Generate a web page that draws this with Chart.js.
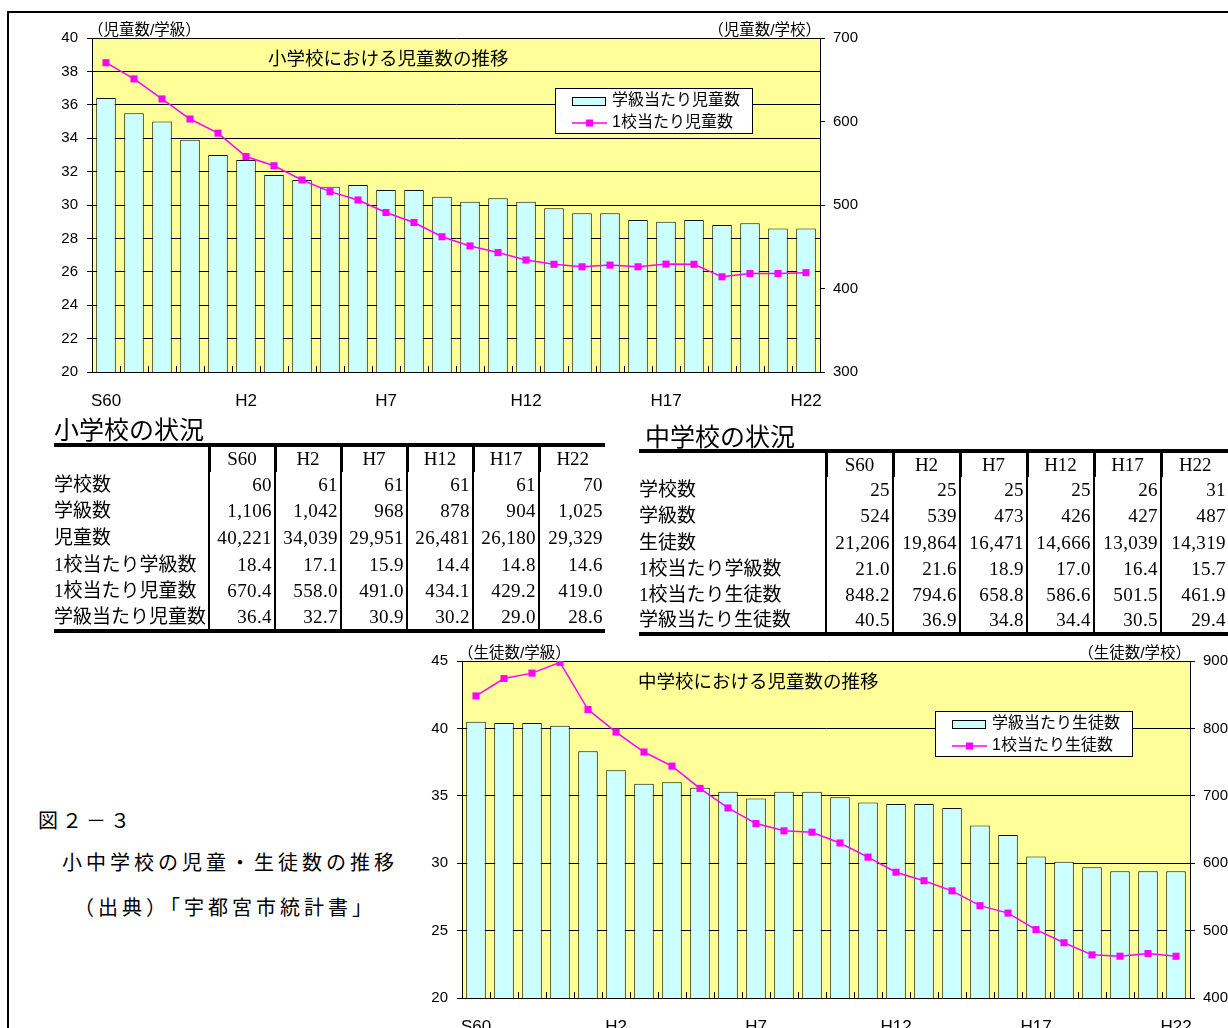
<!DOCTYPE html>
<html lang="ja">
<head>
<meta charset="utf-8">
<script src="https://cdn.jsdelivr.net/npm/chart.js@4.4.1/dist/chart.umd.min.js"></script>
<style>
  html, body { margin: 0; padding: 0; width: 1228px; height: 1028px; overflow: hidden; background: #fff; }
  body { position: relative; font-family: 'Liberation Sans', 'Noto Sans CJK JP', sans-serif; color: #000; }
  .frame { position: absolute; left: 7px; top: 11px; width: 1300px; height: 1100px; border-left: 2px solid #000; border-top: 2px solid #000; }
  canvas { position: absolute; }
  .heading { position: absolute; font-family: 'Noto Sans CJK JP', sans-serif; font-size: 25px; line-height: 29px; white-space: nowrap; }
  table.tbl { position: absolute; border-collapse: collapse; table-layout: fixed;
    font-family: 'Liberation Serif', 'Noto Sans CJK JP', serif; font-size: 19px;
    border-top: 4px solid #000; border-bottom: 4px solid #000; }
  table.tbl td { padding: 0 2px 0 0; white-space: nowrap; overflow: hidden; line-height: 20px; }
  table.tbl td.lab { text-align: left; border-right: 2px solid #000; }
  table.tbl td.num { text-align: right; border-right: 2px solid #000; letter-spacing: 0.4px; }
  table.tbl td.hd { text-align: center; border-right: 3px solid #000; padding: 0; }
  table.tbl td.last { border-right: none; }
  .note { position: absolute; font-family: 'Noto Sans CJK JP', sans-serif; font-size: 20px; letter-spacing: 4px; white-space: nowrap; line-height: 24px; }
</style>
</head>
<body>
<div class="frame"></div>
<canvas id="chartElem" width="850" height="410" style="left:30px; top:10px;"></canvas>
<canvas id="chartJunior" width="870" height="430" style="left:400px; top:630px;"></canvas>

<div class="heading" style="left:54px; top:414px;">小学校の状況</div>
<table class="tbl" id="tblElem" style="left:54px; top:443px;"></table>
<div class="heading" style="left:645px; top:421px;">中学校の状況</div>
<table class="tbl" id="tblJunior" style="left:639px; top:449px;"></table>

<div class="note" style="left:38px; top:808px;">図２－３</div>
<div class="note" style="left:62px; top:850px;">小中学校の児童・生徒数の推移</div>
<div class="note" style="left:74px; top:895px;">（出典）「宇都宮市統計書」</div>

<script>
// 年次（S60〜H22）
const categories = ['S60', 'S61', 'S62', 'S63', 'H1', 'H2', 'H3', 'H4', 'H5', 'H6', 'H7', 'H8', 'H9',
    'H10', 'H11', 'H12', 'H13', 'H14', 'H15', 'H16', 'H17', 'H18', 'H19', 'H20', 'H21', 'H22'];

// 小学校
const elemPerClass = [36.4, 35.5, 35.0, 33.9, 33.0, 32.7, 31.8, 31.5, 31.1, 31.2, 30.9, 30.9, 30.5,
    30.2, 30.4, 30.2, 29.8, 29.5, 29.5, 29.1, 29.0, 29.1, 28.8, 28.9, 28.6, 28.6];
const elemPerSchool = [670.4, 651, 627, 603, 586, 558.0, 547, 530, 516, 506, 491.0, 479, 462,
    451, 443, 434.1, 429, 426, 428, 426, 429.2, 429, 414, 418, 418, 419.0];

// 中学校
const juniorPerClass = [40.5, 40.4, 40.4, 40.2, 38.3, 36.9, 35.9, 36.0, 35.6, 35.3, 34.8, 35.3, 35.3,
    34.9, 34.5, 34.4, 34.4, 34.1, 32.8, 32.1, 30.5, 30.1, 29.7, 29.4, 29.4, 29.4];
const juniorPerSchool = [848.2, 874, 882, 898, 828, 794.6, 765, 744, 711, 682, 658.8, 648, 646,
    630, 609, 586.6, 574, 559, 537, 526, 501.5, 482, 464, 462, 466, 461.9];

// 表
const tableYears = ['S60', 'H2', 'H7', 'H12', 'H17', 'H22'];
const elemRowLabels = ['学校数', '学級数', '児童数', '1校当たり学級数', '1校当たり児童数', '学級当たり児童数'];
const elemRowValues = [
    ['60', '61', '61', '61', '61', '70'],
    ['1,106', '1,042', '968', '878', '904', '1,025'],
    ['40,221', '34,039', '29,951', '26,481', '26,180', '29,329'],
    ['18.4', '17.1', '15.9', '14.4', '14.8', '14.6'],
    ['670.4', '558.0', '491.0', '434.1', '429.2', '419.0'],
    ['36.4', '32.7', '30.9', '30.2', '29.0', '28.6']
];
const juniorRowLabels = ['学校数', '学級数', '生徒数', '1校当たり学級数', '1校当たり生徒数', '学級当たり生徒数'];
const juniorRowValues = [
    ['25', '25', '25', '25', '26', '31'],
    ['524', '539', '473', '426', '427', '487'],
    ['21,206', '19,864', '16,471', '14,666', '13,039', '14,319'],
    ['21.0', '21.6', '18.9', '17.0', '16.4', '15.7'],
    ['848.2', '794.6', '658.8', '586.6', '501.5', '461.9'],
    ['40.5', '36.9', '34.8', '34.4', '30.5', '29.4']
];

const FONT = "'Liberation Sans', 'Noto Sans CJK JP', sans-serif";
const BAR_COLOR = '#CCFFFF';
const LINE_COLOR = '#FF00FF';
const PLOT_BG = '#FFFF99';

// 表をつくる
function construirTabla(id, rowLabels, rowValues, labelWidth, colWidth, rowH) {
    const t = document.getElementById(id);
    let html = '<colgroup><col style="width:' + labelWidth + 'px">';
    tableYears.forEach(() => { html += '<col style="width:' + colWidth + 'px">'; });
    html += '</colgroup>';
    html += '<tr style="height:' + rowH + 'px"><td class="hd"></td>';
    tableYears.forEach((y, i) => {
        html += '<td class="hd' + (i === tableYears.length - 1 ? ' last' : '') + '">' + y + '</td>';
    });
    html += '</tr>';
    rowLabels.forEach((lab, r) => {
        html += '<tr style="height:' + rowH + 'px"><td class="lab">' + lab + '</td>';
        rowValues[r].forEach((v, i) => {
            html += '<td class="num' + (i === rowValues[r].length - 1 ? ' last' : '') + '">' + v + '</td>';
        });
        html += '</tr>';
    });
    t.innerHTML = html;
}
construirTabla('tblElem', elemRowLabels, elemRowValues, 152, 66, 26.6);
construirTabla('tblJunior', juniorRowLabels, juniorRowValues, 187, 67, 26.2);

// 背景・凡例・タイトルを描くプラグイン
const decoPlugin = {
    id: 'deco',
    beforeDraw(chart) {
        const a = chart.chartArea;
        const ctx = chart.ctx;
        ctx.save();
        ctx.fillStyle = PLOT_BG;
        ctx.fillRect(a.left, a.top, a.right - a.left, a.bottom - a.top);
        ctx.restore();
    },
    afterDatasetsDraw(chart) {
        // 横軸の目盛り（内向き）
        const a = chart.chartArea;
        const ctx = chart.ctx;
        const n = chart.data.labels.length;
        const w = (a.right - a.left) / n;
        ctx.save();
        ctx.strokeStyle = '#000';
        ctx.lineWidth = 1;
        ctx.beginPath();
        for (let i = 1; i < n; i++) {
            const x = Math.round(a.left + i * w) + 0.5;
            ctx.moveTo(x, a.bottom);
            ctx.lineTo(x, a.bottom - 6);
        }
        ctx.stroke();
        ctx.restore();
    },
    afterDraw(chart) {
        const o = chart.options.plugins.deco;
        const a = chart.chartArea;
        const ctx = chart.ctx;
        ctx.save();
        ctx.fillStyle = '#000';
        ctx.textBaseline = 'middle';

        // 軸の単位
        ctx.font = '15.5px ' + FONT;
        ctx.textAlign = 'left';
        ctx.fillText(o.leftUnit, a.left - 4, a.top - 7);
        ctx.textAlign = 'right';
        ctx.fillText(o.rightUnit, a.right + 1, a.top - 7);

        // グラフタイトル
        ctx.font = '18.5px ' + FONT;
        ctx.textAlign = 'left';
        ctx.fillText(o.title, a.left + 176, a.top + 22);

        // 凡例
        const lx = a.left + o.legendX;
        const ly = a.top + 50;
        ctx.fillStyle = '#fff';
        ctx.fillRect(lx, ly, 197, 45);
        ctx.strokeStyle = '#000';
        ctx.lineWidth = 1;
        ctx.strokeRect(lx + 0.5, ly + 0.5, 197, 45);

        const ds = chart.data.datasets;
        ctx.fillStyle = BAR_COLOR;
        ctx.fillRect(lx + 17, ly + 9, 33, 8);
        ctx.strokeStyle = '#000';
        ctx.strokeRect(lx + 17.5, ly + 9.5, 33, 8);

        ctx.strokeStyle = LINE_COLOR;
        ctx.lineWidth = 1.5;
        ctx.beginPath();
        ctx.moveTo(lx + 17, ly + 35);
        ctx.lineTo(lx + 52, ly + 35);
        ctx.stroke();
        ctx.fillStyle = LINE_COLOR;
        ctx.fillRect(lx + 31, ly + 31.5, 7, 7);

        ctx.fillStyle = '#000';
        ctx.font = '16px ' + FONT;
        ctx.textAlign = 'left';
        ctx.fillText(ds[0].label, lx + 57, ly + 13);
        ctx.fillText(ds[1].label, lx + 57, ly + 35);
        ctx.restore();
    }
};

// グラフをつくる
function crearGrafico(id, cfg) {
    const ctx = document.getElementById(id).getContext('2d');
    return new Chart(ctx, {
        type: 'bar',
        data: {
            labels: categories,
            datasets: [{
                type: 'bar',
                label: cfg.barLabel,
                data: cfg.barData,
                backgroundColor: BAR_COLOR,
                borderColor: '#111',
                borderWidth: 1,
                categoryPercentage: 1,
                barPercentage: 0.7,
                yAxisID: 'y',
                order: 2
            }, {
                type: 'line',
                label: cfg.lineLabel,
                data: cfg.lineData,
                borderColor: LINE_COLOR,
                borderWidth: 1.5,
                backgroundColor: LINE_COLOR,
                pointStyle: 'rect',
                pointRadius: 5,
                pointBorderWidth: 0,
                pointBackgroundColor: LINE_COLOR,
                tension: 0,
                yAxisID: 'y2',
                order: 1
            }]
        },
        options: {
            responsive: false,
            animation: false,
            devicePixelRatio: 1,
            layout: { padding: { top: cfg.padTop, left: 0, right: 0, bottom: 0 } },
            plugins: {
                legend: { display: false },
                tooltip: { enabled: false },
                deco: {
                    title: cfg.title,
                    leftUnit: cfg.leftUnit,
                    rightUnit: cfg.rightUnit,
                    legendX: cfg.legendX
                }
            },
            scales: {
                x: {
                    grid: { display: false, drawTicks: false },
                    border: { display: true, color: '#000', width: 1 },
                    ticks: {
                        autoSkip: false,
                        maxRotation: 0,
                        padding: 19,
                        color: '#000',
                        font: { size: 17, family: FONT },
                        callback: (v, i) => (i % 5 === 0 ? categories[i] : '')
                    },
                    afterFit: s => { s.height = cfg.xHeight; }
                },
                y: {
                    position: 'left',
                    min: cfg.leftMin,
                    max: cfg.leftMax,
                    ticks: { stepSize: cfg.leftStep, padding: 9, color: '#000', font: { size: 15, family: FONT } },
                    grid: { color: '#000', lineWidth: 1, tickLength: 5 },
                    border: { display: true, color: '#000', width: 1 },
                    afterFit: s => { s.width = cfg.leftWidth; }
                },
                y2: {
                    position: 'right',
                    min: cfg.rightMin,
                    max: cfg.rightMax,
                    ticks: { stepSize: cfg.rightStep, padding: 8, color: '#000', font: { size: 15, family: FONT } },
                    grid: { drawOnChartArea: false, color: '#000', tickLength: 5 },
                    border: { display: true, color: '#000', width: 1 },
                    afterFit: s => { s.width = cfg.rightWidth; }
                }
            }
        },
        plugins: [decoPlugin]
    });
}

crearGrafico('chartElem', {
    barLabel: '学級当たり児童数',
    lineLabel: '1校当たり児童数',
    barData: elemPerClass,
    lineData: elemPerSchool,
    title: '小学校における児童数の推移',
    leftUnit: '（児童数/学級）',
    rightUnit: '（児童数/学校）',
    legendX: 463,
    padTop: 28,
    leftWidth: 62,
    rightWidth: 60,
    xHeight: 48,
    leftMin: 20, leftMax: 40, leftStep: 2,
    rightMin: 300, rightMax: 700, rightStep: 100
});

crearGrafico('chartJunior', {
    barLabel: '学級当たり生徒数',
    lineLabel: '1校当たり生徒数',
    barData: juniorPerClass,
    lineData: juniorPerSchool,
    title: '中学校における児童数の推移',
    leftUnit: '（生徒数/学級）',
    rightUnit: '（生徒数/学校）',
    legendX: 473,
    padTop: 31,
    leftWidth: 62,
    rightWidth: 80,
    xHeight: 62,
    leftMin: 20, leftMax: 45, leftStep: 5,
    rightMin: 400, rightMax: 900, rightStep: 100
});
</script>
</body>
</html>
